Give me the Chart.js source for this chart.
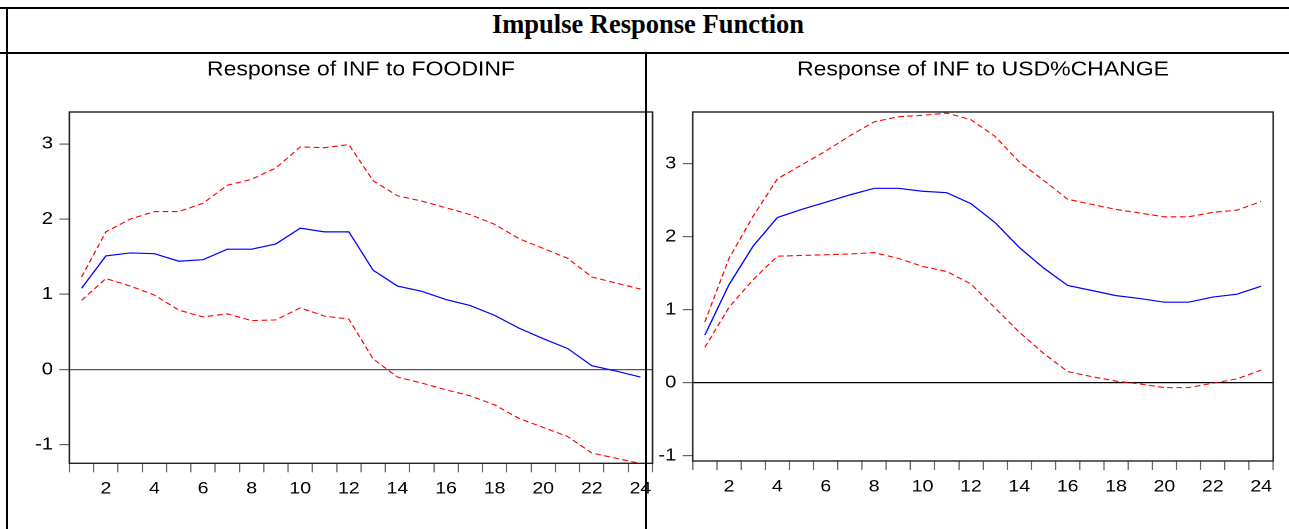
<!doctype html>
<html lang="en">
<head>
  <meta charset="utf-8" />
  <title>Impulse Response Function</title>
  <script src="https://cdn.jsdelivr.net/npm/chart.js@4.4.3/dist/chart.umd.min.js"></script>
  <style>
    body {
      margin: 0;
      width: 1289px;
      height: 529px;
      overflow: hidden;
      background: #fff;
      position: relative;
    }
    .rule {
      position: absolute;
      background: #000;
      z-index: 2;
    }
    #title {
      position: absolute;
      left: 8px;
      width: 1280px;
      top: 9px;
      line-height: 27px;
      text-align: center;
      font: bold 26.5px "Liberation Serif", "Times New Roman", serif;
      color: #000;
    }
    /* the EViews graphs in the source are stretched sideways a little */
    .wrap {
      position: absolute;
      top: 55px;
      transform: scaleX(1.15);
      transform-origin: left top;
    }
  </style>
</head>
<body>
  <div class="rule" style="left:0;top:7px;width:1289px;height:2px"></div>
  <div class="rule" style="left:6px;top:7px;width:2px;height:522px"></div>
  <div class="rule" style="left:0;top:52px;width:1289px;height:2px"></div>
  <div class="rule" style="left:645px;top:52px;width:2px;height:477px"></div>
  <div id="title">Impulse Response Function</div>
  <div class="wrap" style="left:8px"><canvas id="foodChart" width="566" height="474"></canvas></div>
  <div class="wrap" style="left:648px"><canvas id="usdChart" width="557" height="474"></canvas></div>
  <script>
    const periods = ["1", "2", "3", "4", "5", "6", "7", "8", "9", "10", "11", "12",
      "13", "14", "15", "16", "17", "18", "19", "20", "21", "22", "23", "24"];

    // Response of INF to FOODINF
    const foodResponse = [1.08, 1.51, 1.55, 1.54, 1.44, 1.46, 1.60, 1.60, 1.67, 1.88, 1.83, 1.83,
      1.32, 1.11, 1.04, 0.93, 0.85, 0.72, 0.55, 0.41, 0.28, 0.05, -0.02, -0.10];
    const foodUpper = [1.23, 1.83, 2.00, 2.10, 2.10, 2.21, 2.45, 2.53, 2.68, 2.96, 2.95, 2.99,
      2.51, 2.31, 2.24, 2.15, 2.06, 1.93, 1.74, 1.61, 1.48, 1.23, 1.15, 1.07];
    const foodLower = [0.92, 1.21, 1.11, 0.99, 0.79, 0.70, 0.74, 0.65, 0.66, 0.82, 0.71, 0.67,
      0.14, -0.10, -0.18, -0.27, -0.35, -0.47, -0.65, -0.77, -0.89, -1.11, -1.18, -1.25];

    // Response of INF to USD%CHANGE
    const usdResponse = [0.65, 1.34, 1.87, 2.26, 2.37, 2.47, 2.57, 2.66, 2.66, 2.62, 2.60, 2.45,
      2.19, 1.85, 1.57, 1.33, 1.26, 1.19, 1.15, 1.10, 1.10, 1.17, 1.21, 1.32];
    const usdUpper = [0.83, 1.70, 2.28, 2.79, 2.98, 3.17, 3.38, 3.57, 3.64, 3.66, 3.69, 3.60,
      3.37, 3.02, 2.77, 2.51, 2.44, 2.37, 2.32, 2.27, 2.27, 2.33, 2.36, 2.48];
    const usdLower = [0.48, 1.03, 1.41, 1.73, 1.74, 1.75, 1.76, 1.78, 1.70, 1.59, 1.52, 1.35,
      1.02, 0.69, 0.40, 0.15, 0.08, 0.02, -0.02, -0.07, -0.07, -0.01, 0.05, 0.17];

    const yTicks = [-1, 0, 1, 2, 3];

    const frameBox = {
      id: "frameBox",
      afterDraw(chart, args, opts) {
        const { ctx, chartArea } = chart;
        ctx.save();
        ctx.strokeStyle = opts.color;
        ctx.lineWidth = opts.width;
        ctx.strokeRect(chartArea.left, chartArea.top,
          chartArea.right - chartArea.left, chartArea.bottom - chartArea.top);
        ctx.restore();
      },
    };

    const sans = "'Liberation Sans', Arial, sans-serif";

    function makeChart(id, title, mid, upper, lower, s) {
      return new Chart(document.getElementById(id), {
        type: "line",
        data: {
          labels: periods,
          datasets: [
            { data: mid, borderColor: "#0000ff", borderWidth: 1.2 },
            { data: upper, borderColor: "#ff0000", borderWidth: 1.1, borderDash: [5, 3] },
            { data: lower, borderColor: "#ff0000", borderWidth: 1.1, borderDash: [5, 3] },
          ],
        },
        options: {
          responsive: false,
          animation: false,
          devicePixelRatio: 2,
          elements: { point: { radius: 0 }, line: { tension: 0 } },
          layout: { padding: { left: 0, right: s.padRight, top: 0, bottom: 0 } },
          plugins: {
            legend: { display: false },
            tooltip: { enabled: false },
            title: {
              display: true,
              text: title,
              fullSize: false,
              color: "#000",
              font: { family: sans, size: 20, weight: "normal", lineHeight: 1.2 },
              padding: { top: 3, bottom: 30 },
            },
            frameBox: { color: "#222", width: 1.4 },
          },
          scales: {
            x: {
              type: "category",
              offset: true,
              border: { display: false },
              grid: {
                offset: true,
                drawOnChartArea: false,
                drawTicks: true,
                tickLength: 9,
                tickColor: "#666",
                tickWidth: 1.1,
              },
              ticks: {
                autoSkip: false,
                maxRotation: 0,
                padding: 6.5,
                color: "#000",
                font: { family: sans, size: 17 },
                callback: (value, index) => (index % 2 === 1 ? periods[index] : ""),
              },
              afterFit: (scale) => { scale.height = s.xHeight; },
            },
            y: {
              min: s.yMin,
              max: s.yMax,
              border: { display: false },
              grid: {
                drawTicks: true,
                tickLength: 8.7,
                tickColor: "#666",
                tickWidth: 1.2,
                lineWidth: 1.2,
                color: (c) => (c.tick && c.tick.value === 0 ? s.zeroColor : "rgba(0,0,0,0)"),
              },
              afterBuildTicks: (scale) => { scale.ticks = yTicks.map((v) => ({ value: v })); },
              ticks: {
                padding: 5.6,
                color: "#000",
                font: { family: sans, size: 17.5 },
              },
              afterFit: (scale) => { scale.width = s.yWidth; },
            },
          },
        },
        plugins: [frameBox],
      });
    }

    makeChart("foodChart", "Response of INF to FOODINF", foodResponse, foodUpper, foodLower, {
      yMin: -1.247, yMax: 3.424, yWidth: 53.4, xHeight: 65.7, padRight: 2.0, zeroColor: "#555",
    });
    makeChart("usdChart", "Response of INF to USD%CHANGE", usdResponse, usdUpper, usdLower, {
      yMin: -1.075, yMax: 3.705, yWidth: 38.9, xHeight: 68, padRight: 13.3, zeroColor: "#000",
    });
  </script>
</body>
</html>
